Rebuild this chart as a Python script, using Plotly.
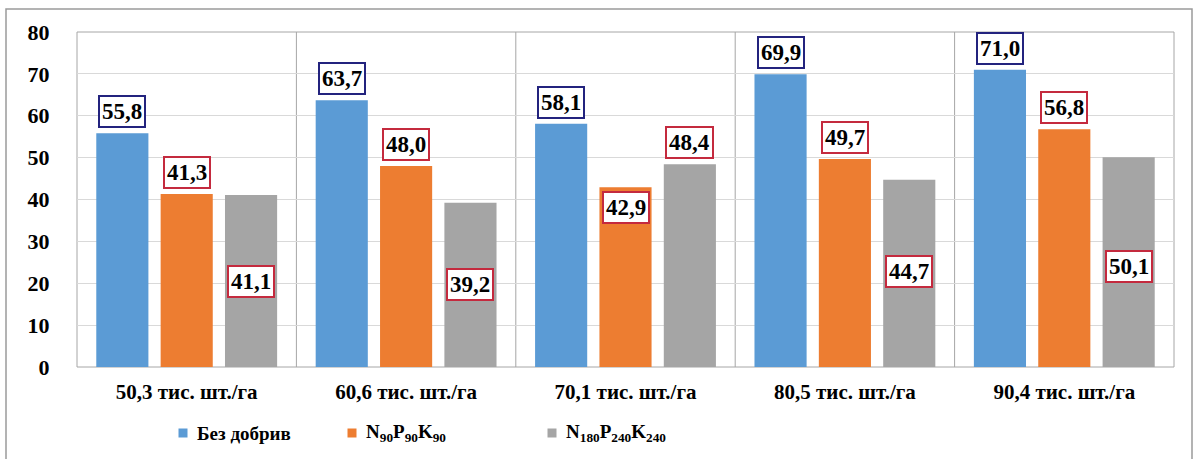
import plotly.graph_objects as go

categories = ["50,3 тис. шт./га", "60,6 тис. шт./га", "70,1 тис. шт./га",
              "80,5 тис. шт./га", "90,4 тис. шт./га"]
series_names = ["Без добрив",
                "N<sub>90</sub>P<sub>90</sub>K<sub>90</sub>",
                "N<sub>180</sub>P<sub>240</sub>K<sub>240</sub>"]
bez_dobryv = [55.8, 63.7, 58.1, 69.9, 71.0]
npk_90 = [41.3, 48.0, 42.9, 49.7, 56.8]
npk_180 = [41.1, 39.2, 48.4, 44.7, 50.1]
y_ticks = [0, 10, 20, 30, 40, 50, 60, 70, 80]

series_values = [bez_dobryv, npk_90, npk_180]

# styling / layout (not data)
colors = ["#5B9BD5", "#ED7D31", "#A5A5A5"]
label_border = ["#23237E", "#C42A3E", "#C42A3E"]
# labels drawn inside the bar (series index, category index) -> y level
inside_label_level = {(2, 0): 20.4, (2, 1): 19.8, (1, 2): 38.2, (2, 3): 22.7, (2, 4): 23.9}
legend_symbol_px = [183, 352, 552]  # legend square centres (pixels)
LEGEND_Y_PX = 433

BARGAP = 0.12
BARGROUPGAP = 0.19
FONT_LABEL = "Tinos"
FONT_AXIS = "Liberation Serif"
FONT_LEGEND = "Times New Roman"

W, H, L, R, T, B = 1198, 459, 77, 24, 32, 92
pw, ph = W - L - R, H - T - B
def px(xp):
    return (xp - L) / pw
def py(yp):
    return (H - B - yp) / ph

fig = go.Figure()
for name, vals, col in zip(series_names, series_values, colors):
    fig.add_trace(go.Bar(x=categories, y=vals, name=name, marker_color=col,
                         marker_line_width=0, showlegend=False))

annotations = []
slot = (1 - BARGAP) / 3
for si, vals in enumerate(series_values):
    for ci, v in enumerate(vals):
        xpos = ci + (si - 1) * slot
        txt = f"{v:.1f}".replace(".", ",")
        common = dict(x=xpos, xref="x", yref="y", text=f"<b>{txt}</b>", showarrow=False,
                      font=dict(family=FONT_LABEL, size=23, color="black"),
                      bgcolor="white", bordercolor=label_border[si],
                      borderwidth=2, borderpad=2)
        if (si, ci) in inside_label_level:
            annotations.append(dict(y=inside_label_level[(si, ci)], yanchor="middle", **common))
        else:
            annotations.append(dict(y=v, yanchor="bottom", yshift=5, **common))

shapes = []
for i in range(1, len(categories)):
    shapes.append(dict(type="line", xref="x", yref="paper", x0=i - 0.5, x1=i - 0.5,
                       y0=0, y1=1, line=dict(color="#A6A6A6", width=1), layer="below"))
shapes.append(dict(type="rect", xref="paper", yref="paper", x0=0, x1=1, y0=0, y1=1,
                   line=dict(color="#A6A6A6", width=1), layer="below"))
shapes.append(dict(type="rect", xref="paper", yref="paper", x0=px(6), x1=px(1192),
                   y0=py(470), y1=py(9), line=dict(color="#9A9A9A", width=1.5), layer="below"))

# legend (squares + labels)
SQ = 4.5
for name, col, cx in zip(series_names, colors, legend_symbol_px):
    shapes.append(dict(type="rect", xref="paper", yref="paper",
                       x0=px(cx - SQ), x1=px(cx + SQ),
                       y0=py(LEGEND_Y_PX + SQ), y1=py(LEGEND_Y_PX - SQ),
                       fillcolor=col, line=dict(width=0)))
    annotations.append(dict(x=px(cx + 12), y=py(LEGEND_Y_PX), xref="paper", yref="paper",
                            xanchor="left", yanchor="middle", showarrow=False,
                            text=f"<b>{name}</b>",
                            font=dict(family=FONT_LEGEND, size=19, color="black")))

fig.update_layout(
    width=W, height=H,
    margin=dict(l=L, r=R, t=T, b=B),
    paper_bgcolor="white", plot_bgcolor="white",
    barmode="group", bargap=BARGAP, bargroupgap=BARGROUPGAP,
    font=dict(family=FONT_AXIS, color="black"),
    showlegend=False,
    annotations=annotations,
    shapes=shapes,
)
fig.update_xaxes(showgrid=False, ticks="outside", ticklen=6, tickcolor="rgba(0,0,0,0)",
                 tickfont=dict(family=FONT_AXIS, size=21, color="black", weight="bold"),
                 showline=False, zeroline=False)
fig.update_yaxes(range=[0, 80], tickvals=y_ticks, showgrid=True, gridcolor="#D9D9D9",
                 gridwidth=1, zeroline=False, showline=False,
                 ticks="outside", ticklen=22, tickcolor="rgba(0,0,0,0)",
                 tickfont=dict(family=FONT_AXIS, size=22, color="black", weight="bold"))

fig.write_html("out.html")
